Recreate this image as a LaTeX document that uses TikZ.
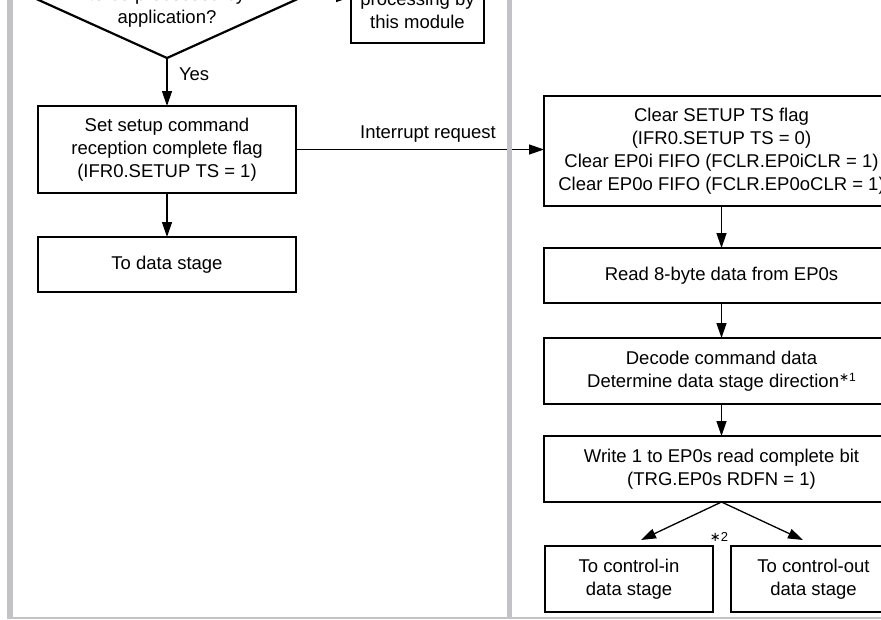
\documentclass[tikz,border=0pt]{standalone}
\usepackage{fontspec}
\setmainfont{Liberation Sans}
\newfontfamily\symf{DejaVu Sans}
\usetikzlibrary{arrows.meta,shapes.geometric}
\definecolor{barcol}{RGB}{194,194,199}
\begin{document}
\begin{tikzpicture}[x=1pt,y=-1pt,
  every node/.style={font=\fontsize{18.5}{23}\selectfont, inner sep=0pt, outer sep=0pt},
  box/.style={draw, line width=2.2pt, align=center},
  conn/.style={line width=1.3pt, -{Triangle[length=15pt,width=10pt]}},
  bar/.style={fill=barcol, draw=none}]
\useasboundingbox (0,0) rectangle (881,619);
\clip (0,0) rectangle (881,619);
% left column
\node[draw, diamond, line width=2.2pt, minimum width=270pt, minimum height=122pt] (dec) at (167,-3) {};
\node[align=center] (dectext) at (167,7) {to be processed by\\application?};
\node[box, minimum width=133pt, minimum height=65pt] (mod) at (417.5,10.5) {processing by\\this module};
\node[box, minimum width=258pt, minimum height=87pt] (set) at (167,149.5) {Set setup command\\reception complete flag\\(IFR0.SETUP TS = 1)};
\node[box, minimum width=258pt, minimum height=55pt] (todata) at (167,264.5) {To data stage};
\node[anchor=west] (yes) at (179,74) {Yes};
\node (irq) at (428,134) {Interrupt request};
% right column
\node[box, minimum width=355pt, minimum height=110pt] (clear) at (721.5,151) {Clear SETUP TS flag\\(IFR0.SETUP TS = 0)\\Clear EP0i FIFO (FCLR.EP0iCLR = 1)\\Clear EP0o FIFO (FCLR.EP0oCLR = 1)};
\node[box, minimum width=355pt, minimum height=55pt] (read) at (721.5,275.5) {Read 8-byte data from EP0s};
\node[box, minimum width=355pt, minimum height=66pt] (decode) at (721.5,371) {Decode command data\\Determine data stage direction\raisebox{6pt}{\fontsize{12}{12}\selectfont{\symf ∗}1}};
\node[box, minimum width=355pt, minimum height=66pt] (write) at (721.5,469) {Write 1 to EP0s read complete bit\\(TRG.EP0s RDFN = 1)};
\node[box, minimum width=168pt, minimum height=66pt] (ctlin) at (629,579) {To control-in\\data stage};
\node[box, minimum width=165pt, minimum height=66pt] (ctlout) at (813.5,579) {To control-out\\data stage};
\node (n2) at (719,537) {\fontsize{13}{13}\selectfont{\symf ∗}2};
\coordinate (inTip) at (641,540);
\coordinate (outTip) at (803,540);
% connectors
\draw[conn] (dec.east) -- (dec.east -| mod.west);
\draw[conn] (dec.south) -- (set.north);
\draw[conn] (set.south) -- (todata.north);
\draw[conn] (set.east) -- (set.east -| clear.west);
\draw[conn] (clear.south) -- (read.north);
\draw[conn] (read.south) -- (decode.north);
\draw[conn] (decode.south) -- (write.north);
\draw[conn] (write.south) -- (inTip);
\draw[conn] (write.south) -- (outTip);
% frame bars
\fill[bar] (7,0) rectangle (12.5,619);
\fill[bar] (506.5,0) rectangle (511.5,619);
\fill[bar] (7,617.3) rectangle (881,619);
\end{tikzpicture}
\end{document}
